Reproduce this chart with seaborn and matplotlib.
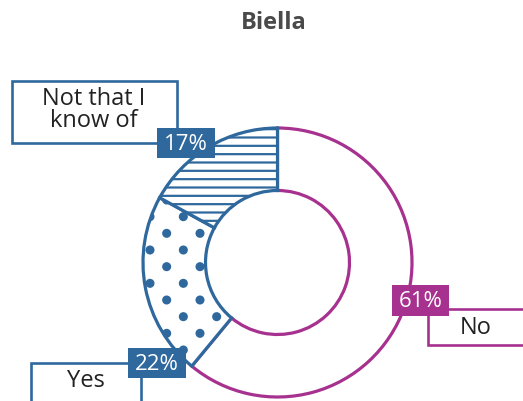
import numpy as np
import matplotlib
matplotlib.use("Agg")
import matplotlib.pyplot as plt
import matplotlib.hatch as mhatch
from matplotlib.path import Path
from matplotlib.patches import Rectangle
import seaborn as sns

# ---- data ----
title = "Biella"
categories = ["No", "Yes", "Not that I\nknow of"]
values = [61, 22, 17]
pct_labels = [f"{v}%" for v in values]

BLUE = "#2e689d"
MAGENTA = "#a7318f"
edge_colors = [MAGENTA, BLUE, BLUE]
hatches = [None, ".", "--"]


# ---- custom large-dot hatch (diagonal grid of filled dots) ----
class BigDots(mhatch.HatchPatternBase):
    filled = True

    def __init__(self, hatch, density):
        self.rows = 6 if hatch.count(".") else 0
        self.cols = 3
        circ = Path.unit_circle()
        self.sv = circ.vertices
        self.sc = circ.codes
        if self.rows == 0:
            self.num_vertices = 0
        else:
            n = 0
            for r in range(self.rows + 1):
                n += (self.cols + 1) if r % 2 == 0 else self.cols
            self.num_shapes = n
            self.num_vertices = n * len(self.sv)

    def set_vertices_and_codes(self, vertices, codes):
        rad = 0.034
        vp, cp = [], []
        for r in range(self.rows + 1):
            y = r / self.rows
            if r % 2 == 0:
                xs = [c / self.cols for c in range(self.cols + 1)]
            else:
                xs = [(c + 0.5) / self.cols for c in range(self.cols)]
            for x in xs:
                vp.append(self.sv * rad + [x, y])
                cp.append(self.sc)
        np.concatenate(vp, out=vertices)
        np.concatenate(cp, out=codes)


mhatch._hatch_types = [BigDots if t is mhatch.SmallFilledCircles else t
                       for t in mhatch._hatch_types]

sns.set_theme(style="white")
plt.rcParams["font.family"] = ["Open Sans", "DejaVu Sans"]
plt.rcParams["hatch.linewidth"] = 1.6

W, H = 523, 401
fig = plt.figure(figsize=(W / 100, H / 100), dpi=100)
ax = fig.add_axes([0, 0, 1, 1])

cx, cy, R, r_in = 277.5, H - 262.5, 134.5, 72.0
wedges, _ = ax.pie(values, startangle=90, counterclock=False,
                   center=(cx, cy), radius=R, frame=True,
                   wedgeprops=dict(width=R - r_in, linewidth=2.3,
                                   facecolor="white"))
for w, ec, h in zip(wedges, edge_colors, hatches):
    w.set_edgecolor(ec)
    if h:
        w.set_hatch(h)
        w._hatch_color = matplotlib.colors.to_rgba(ec)

ax.set_xlim(0, W)
ax.set_ylim(0, H)
ax.set_aspect("equal")
ax.set_axis_off()


def py(y):
    return H - y


def label_box(x0, y0, x1, y1, text, color, tx, ty):
    ax.add_patch(Rectangle((x0, py(y1)), x1 - x0, y1 - y0, facecolor="white",
                           edgecolor=color, linewidth=1.9, zorder=5,
                           clip_on=False))
    ax.text(tx, py(ty), text, ha="center", va="center", fontsize=17,
            color="#222222", linespacing=0.92, zorder=6)


def pct_box(x0, y0, x1, y1, text, color):
    ax.add_patch(Rectangle((x0, py(y1)), x1 - x0, y1 - y0, facecolor=color,
                           edgecolor="none", zorder=7))
    ax.text((x0 + x1) / 2, py((y0 + y1) / 2 + 1), text, ha="center",
            va="center", fontsize=16, color="white", zorder=8)


# category label boxes (No, Yes, Not that I know of)
label_box(428, 309, 530, 345, categories[0], MAGENTA, 476, 328)
label_box(31, 363, 141, 410, categories[1], BLUE, 86, 381)
label_box(12, 81, 177, 143, categories[2], BLUE, 94, 110)

# percentage boxes
pct_box(392, 285, 449, 316, pct_labels[0], MAGENTA)
pct_box(128, 348, 186, 378, pct_labels[1], BLUE)
pct_box(157, 128, 215, 158, pct_labels[2], BLUE)

ax.text(274, py(23), title, ha="center", va="center", fontsize=17,
        fontweight="bold", color="#4a4a4a")

fig.savefig("out.png", dpi=100)
